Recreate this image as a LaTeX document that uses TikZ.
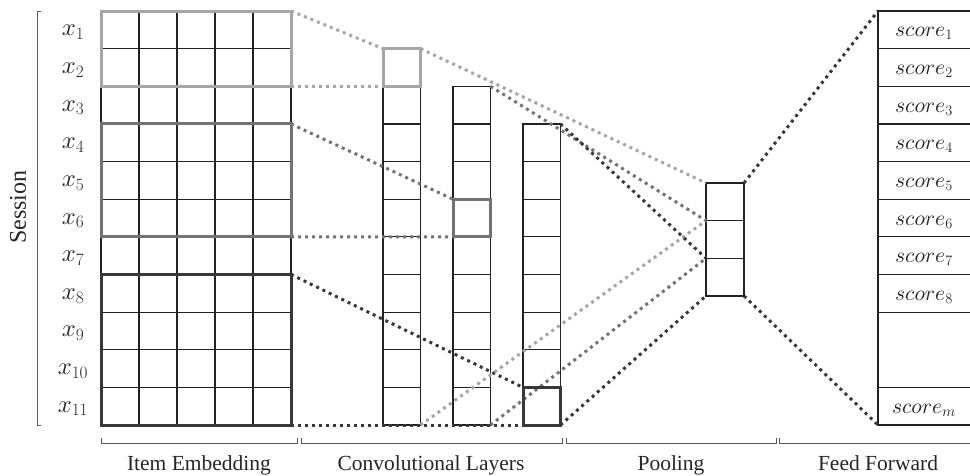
\documentclass[tikz,border=0pt]{standalone}
\usepackage{fontspec}
\setmainfont{Liberation Serif}
% scalable math italic
\DeclareFontFamily{OML}{cmm}{\skewchar\font127}
\DeclareFontShape{OML}{cmm}{m}{it}{<-> cmmi10}{}
\definecolor{lightg}{HTML}{A6A6A6}
\definecolor{midg}{HTML}{737373}
\definecolor{darkg}{HTML}{383838}
\definecolor{gridc}{HTML}{222222}
\begin{document}
\begin{tikzpicture}[x=1pt,y=-1pt,
  gridline/.style={line width=1.2pt, draw=gridc},
  cellbox/.style={draw=gridc, line width=1.2pt, rectangle, inner sep=0pt, outer sep=0pt, anchor=north west},
  hl/.style={line width=3pt, rectangle, inner sep=0pt, outer sep=0pt, anchor=north west},
  dotline/.style={line width=3pt, dash pattern=on 3pt off 4pt},
  brk/.style={line width=1pt, draw=black!65},
  lab/.style={font=\fontsize{21.5}{25}\selectfont, text=black!85, inner sep=0pt},
  xlab/.style={font=\fontsize{24.5}{28}\selectfont, text=black!85, inner sep=0pt, anchor=base},
  mlab/.style={font=\fontsize{21.5}{25}\selectfont, text=black!85, inner sep=0pt, anchor=base}]
\useasboundingbox (0,0) rectangle (970,475);
\clip (0,0) rectangle (970,475);
\def\h{37.64}

% item embedding grid
\foreach \k in {0,...,11}
  \draw[gridline] (101,{11+\k*\h}) -- (291,{11+\k*\h});
\foreach \c in {0,...,5}
  \draw[gridline] ({101+\c*38},11) -- ({101+\c*38},425.04);
\foreach \k in {1,...,11}
  \node[xlab] (x\k) at (73,{11+(\k-0.5)*\h+6}) {$x_{\k}$};

% convolution windows over the embedding
\node[hl, draw=lightg, minimum width=190, minimum height=75.28] (winA) at (101,11) {};
\node[hl, draw=midg, minimum width=190, minimum height=112.92] (winB) at (101,123.92) {};
\node[hl, draw=darkg, minimum width=190, minimum height=150.56] (winC) at (101,274.48) {};

% convolutional layers
\node[cellbox, minimum width=37.5, minimum height=376.4] (conv1) at (383,48.64) {};
\node[cellbox, minimum width=37.5, minimum height=338.76] (conv2) at (453,86.28) {};
\node[cellbox, minimum width=37.5, minimum height=301.12] (conv3) at (523,123.92) {};
\foreach \k in {2,...,10}
  \draw[gridline] (383,{11+\k*\h}) -- (420.5,{11+\k*\h});
\foreach \k in {3,...,10}
  \draw[gridline] (453,{11+\k*\h}) -- (490.5,{11+\k*\h});
\foreach \k in {4,...,10}
  \draw[gridline] (523,{11+\k*\h}) -- (560.5,{11+\k*\h});

% pooling
\node[cellbox, minimum width=38, minimum height=\h] (p1) at (706,183) {};
\node[cellbox, minimum width=38, minimum height=\h] (p2) at (706,220.64) {};
\node[cellbox, minimum width=38, minimum height=\h] (p3) at (706,258.28) {};
\node[inner sep=0pt, outer sep=0pt, minimum width=38, minimum height=112.92, anchor=north west] (pool) at (706,183) {};

% feed forward scores
\foreach \k in {1,...,8}{
  \node[cellbox, minimum width=120, minimum height=\h] (s\k) at (878,{11+(\k-1)*\h}) {};
  \node[mlab] (t\k) at (924,{11+(\k-0.5)*\h+7}) {$score_{\k}$};
}
\node[cellbox, minimum width=120, minimum height=75.28] (sgap) at (878,312.12) {};
\node[cellbox, minimum width=120, minimum height=\h] (sm) at (878,387.4) {};
\node[mlab] (tm) at (924,{387.4+0.5*\h+7}) {$score_{m}$};

% dotted connectors
\draw[dotline, lightg] (winA.north east) -- (conv1.north west);
\draw[dotline, lightg] (winA.south east) -- (conv1.north west |- winA.south east);
\draw[dotline, midg] (winB.north east) -- (453,199.2);
\draw[dotline, midg] (winB.south east) -- (453,236.84);
\draw[dotline, darkg] (winC.north east) -- (523,387.4);
\draw[dotline, darkg] (winC.south east) -- (conv3.south west);

\draw[dotline, lightg] (conv1.north east) -- (p1.north west);
\draw[dotline, lightg] (conv1.south east) -- (p1.south west);
\draw[dotline, midg] (conv2.north east) -- (p2.north west);
\draw[dotline, midg] (conv2.south east) -- (p2.south west);
\draw[dotline, darkg] (conv3.north east) -- (p3.north west);
\draw[dotline, darkg] (conv3.south east) -- (p3.south west);

\draw[dotline, darkg] (pool.north east) -- (s1.north west);
\draw[dotline, darkg] (pool.south east) -- (sm.south west);

% selected cells in the convolutional layers
\node[hl, draw=lightg, minimum width=37.5, minimum height=\h] (k1) at (383,48.64) {};
\node[hl, draw=midg, minimum width=37.5, minimum height=\h] (k2) at (453,199.2) {};
\node[hl, draw=darkg, minimum width=37.5, minimum height=\h] (k3) at (523,387.4) {};

% session bracket
\draw[brk] (41,11) -- (37,11) -- (37,425) -- (41,425);
\node[lab, font=\fontsize{24}{28}\selectfont, rotate=90] (session) at (18,207) {Session};

% stage brackets
\draw[brk] (101,438) -- (101,443) -- (297,443) -- (297,438);
\draw[brk] (301,438) -- (301,443) -- (562,443) -- (562,438);
\draw[brk] (566,438) -- (566,443) -- (776,443) -- (776,438);
\draw[brk] (779,438) -- (779,443) -- (980,443);
\node[lab, anchor=base] (l1) at (199,470) {Item Embedding};
\node[lab, anchor=base] (l2) at (431,470) {Convolutional Layers};
\node[lab, anchor=base] (l3) at (671,470) {Pooling};
\node[lab, anchor=base] (l4) at (878,470) {Feed Forward};
\end{tikzpicture}
\end{document}
